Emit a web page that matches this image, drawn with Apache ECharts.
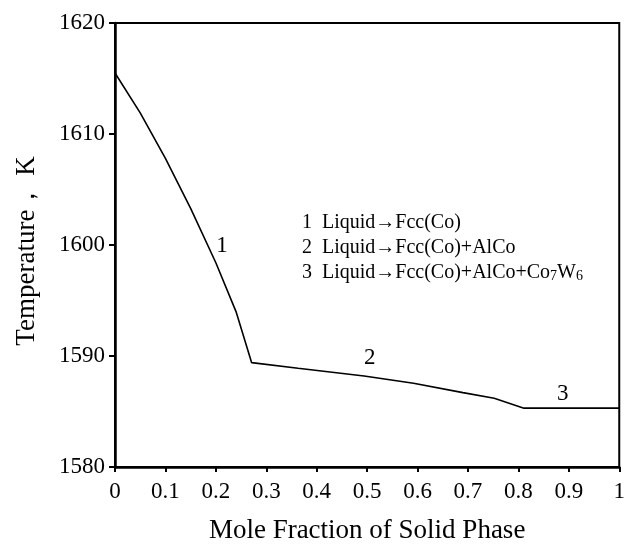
<!DOCTYPE html>
<html>
<head>
<meta charset="utf-8">
<script src="https://cdn.jsdelivr.net/npm/echarts@6/dist/echarts.min.js"></script>
<style>
  html, body { margin: 0; padding: 0; background: #fff; }
  #main { width: 628px; height: 549px; }
</style>
</head>
<body>
<div id="main"></div>
<script>
// solidification curve
const fraction = [0, 0.05, 0.10, 0.15, 0.20, 0.24, 0.271, 0.363, 0.494, 0.592, 0.690, 0.752, 0.811, 1.0];
const temperature = [1615.5, 1611.9, 1607.8, 1603.3, 1598.4, 1594.0, 1589.4, 1588.9, 1588.2, 1587.55, 1586.7, 1586.2, 1585.3, 1585.3];

// curve segment numbers (x, T, text)
const segLabels = [
    [0.212, 1599.9, '1'],
    [0.505, 1589.8, '2'],
    [0.888, 1586.6, '3']
];

const legendLines = [
    '1  Liquid\u2192Fcc(Co)',
    '2  Liquid\u2192Fcc(Co)+AlCo',
    '3  Liquid\u2192Fcc(Co)+AlCo+Co{s|7}W{s|6}'
];

const xTicks = ['0', '0.1', '0.2', '0.3', '0.4', '0.5', '0.6', '0.7', '0.8', '0.9', '1'];

const font = 'Liberation Serif';
const chart = echarts.init(document.getElementById('main'));

chart.setOption({
    animation: false,
    textStyle: { fontFamily: font, color: '#000' },
    grid: {
        left: 115, right: 3, top: 23, bottom: 79,
        show: true, borderColor: '#000', borderWidth: 2
    },
    xAxis: {
        type: 'value', min: 0, max: 1, interval: 0.1,
        name: 'Mole Fraction of Solid Phase',
        nameLocation: 'middle', nameGap: 50,
        nameTextStyle: { fontFamily: font, fontSize: 27, color: '#000' },
        axisLine: { lineStyle: { color: '#000', width: 2.5 } },
        axisTick: { inside: false, length: 5, lineStyle: { color: '#000', width: 2 } },
        axisLabel: {
            fontFamily: font, fontSize: 23, color: '#000', margin: 13,
            formatter: v => xTicks[Math.round(v * 10)]
        },
        splitLine: { show: false }
    },
    yAxis: {
        type: 'value', min: 1580, max: 1620, interval: 10,
        name: 'Temperature\uFF0C K',
        nameLocation: 'middle', nameGap: 75,
        nameTextStyle: { fontFamily: font, fontSize: 27, color: '#000', padding: [0, 12, 0, 0] },
        axisLine: { lineStyle: { color: '#000', width: 2.5 } },
        axisTick: { inside: false, length: 6, lineStyle: { color: '#000', width: 2 } },
        axisLabel: {
            fontFamily: font, fontSize: 23, color: '#000', margin: 10,
            formatter: v => String(v)
        },
        splitLine: { show: false }
    },
    graphic: legendLines.map((t, i) => ({
        type: 'text',
        left: 302,
        top: 213 + i * 25,
        style: {
            text: t,
            fontFamily: font,
            fontSize: 20,
            fill: '#000',
            rich: { s: { fontFamily: font, fontSize: 14, fill: '#000', verticalAlign: 'bottom' } }
        }
    })),
    series: [
        {
            type: 'line',
            data: fraction.map((x, i) => [x, temperature[i]]),
            symbol: 'none',
            lineStyle: { color: '#000', width: 1.6 }
        },
        {
            type: 'scatter',
            data: segLabels.map(d => [d[0], d[1], d[2]]),
            symbolSize: 0,
            itemStyle: { opacity: 1 },
            label: {
                show: true, position: 'inside',
                formatter: p => p.data[2],
                fontFamily: font, fontSize: 23, color: '#000', opacity: 1
            }
        }
    ]
});
</script>
</body>
</html>
